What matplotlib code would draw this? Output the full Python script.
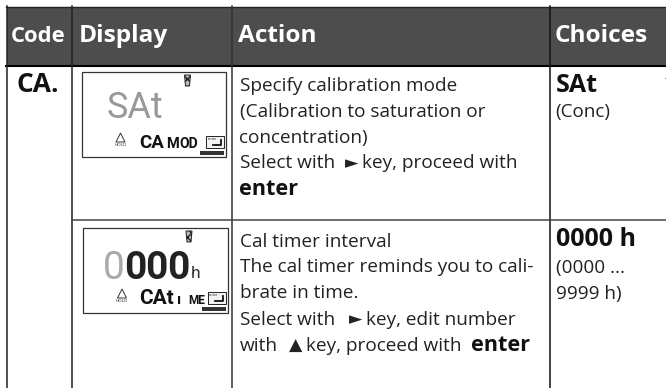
#!/usr/bin/env python3
import matplotlib
matplotlib.use("Agg")
import matplotlib.pyplot as plt
from matplotlib.patches import Rectangle, Polygon

# Contenido de la tabla
headers = ["Code", "Display", "Action", "Choices"]
code_label = "CA."
action_row1 = [
    [("Specify calibration mode", False)],
    [("(Calibration to saturation or", False)],
    [("concentration)", False)],
    [("Select with", False), ("►", False), ("key, proceed with", False)],
    [("enter", True)],
]
action_row2 = [
    [("Cal timer interval", False)],
    [("The cal timer reminds you to cali-", False)],
    [("brate in time.", False)],
    [("Select with", False), ("►", False), ("key, edit number", False)],
    [("with", False), ("▲", False), ("key, proceed with", False), ("enter", True)],
]
choices_row1 = [("SAt", True), ("(Conc)", False)]
choices_row2 = [("0000 h", True), ("(0000 ...", False), ("9999 h)", False)]

FONT = "Open Sans"
DARK = "#4d4d4d"
TEXT = "#222222"

fig = plt.figure(figsize=(6.66, 3.88), dpi=100)
ax = fig.add_axes([0, 0, 1, 1])
ax.set_xlim(0, 666)
ax.set_ylim(388, 0)
ax.axis("off")

# Cabecera oscura y lineas de la tabla
ax.add_patch(Rectangle((7, 7), 659, 58, fc=DARK, ec="none"))
ax.plot([6, 666], [6.5, 6.5], color="#222222", lw=1.0)
ax.plot([6, 666], [65.8, 65.8], color="black", lw=1.5)
ax.plot([7, 7], [6, 388], color="#222222", lw=1.1)
ax.plot([72, 72], [6, 388], color="#222222", lw=1.1)
ax.plot([231.7, 231.7], [6, 388], color="#333333", lw=1.1)
ax.plot([549.7, 549.7], [6, 388], color="#111111", lw=1.1)
ax.plot([72, 666], [220, 220], color="#444444", lw=1.1)

header_x = [10.5, 78.5, 237.5, 555]
header_size = [15.8, 17.6, 17.6, 17.6]
for name, x, size in zip(headers, header_x, header_size):
    ax.text(x, 42.5, name, color="white", fontsize=size, fontweight="bold",
            family=FONT, va="baseline", ha="left")

ax.text(16, 92, code_label, color="#111111", fontsize=19, fontweight="bold",
        family=FONT, va="baseline")


# Escribe una linea con tramos normales, simbolos y negrita en sus x
def draw_runs(xs, y, runs, size=13.7):
    for x, (txt, bold) in zip(xs, runs):
        if txt in ("►", "▲"):
            ax.text(x, y - 0.5, txt, fontsize=12.5, family="DejaVu Sans",
                    color=TEXT, va="baseline")
        else:
            ax.text(x, y, txt, fontsize=15.6 if bold else size,
                    family=FONT, fontweight="bold" if bold else "normal",
                    color="#111111" if bold else TEXT, va="baseline")


row1_xs = [[239.5], [239.5], [239.5], [239.5, 345, 362.5], [239.5]]
row2_xs = [[239.5], [239.5], [239.5], [239.5, 348.5, 366], [239.5, 288.5, 306, 471]]
for xs, runs, y in zip(row1_xs, action_row1, [91, 117, 143, 168.5, 195]):
    draw_runs(xs, y, runs)
for xs, runs, y in zip(row2_xs, action_row2, [247, 272.5, 298.5, 325, 351]):
    draw_runs(xs, y, runs)


def draw_choices(rows, ys):
    for (txt, bold), y in zip(rows, ys):
        ax.text(555.5, y, txt, family=FONT, va="baseline",
                fontsize=18 if bold else 13.6,
                fontweight="bold" if bold else "normal",
                color="#111111" if bold else TEXT)


draw_choices(choices_row1, [91.5, 117.5])
draw_choices(choices_row2, [245.5, 272.5, 298.5])
ax.plot([664.5, 666], [78, 78], color="#999999", lw=0.8)


# Pantalla LCD: marco, icono del vaso, aviso, tecla enter y barra
def draw_lcd(x0, y0, w, h):
    ax.add_patch(Rectangle((x0, y0), w, h, fc="white", ec="#333333", lw=0.9))
    bx = x0 + w - 41.5
    by = y0 + 3
    ax.add_patch(Polygon([(bx, by), (bx + 1, by + 11), (bx + 5, by + 11), (bx + 6, by)],
                         closed=True, fc="#bbbbbb", ec="#222222", lw=0.7, hatch="xxxx"))
    tx = x0 + w - 110
    ax.add_patch(Polygon([(tx, y0 + 70), (tx + 4.5, y0 + 61), (tx + 9, y0 + 70)],
                         closed=True, fc="white", ec="#333333", lw=0.7))
    ax.text(tx + 4.5, y0 + 74.5, "HOLD", fontsize=3.2, ha="center", va="baseline",
            family="Liberation Sans", color="#333333")
    ax.add_patch(Rectangle((x0 + w - 20, y0 + 63.5), 18, 12, fc="#f2f2f2", ec="#222222", lw=0.7))
    ax.text(x0 + w - 18.5, y0 + 68.5, "enter", fontsize=3, ha="left", va="baseline",
            family="Liberation Sans", color="#333333")
    ax.plot([x0 + w - 5, x0 + w - 5, x0 + w - 13], [y0 + 68, y0 + 73, y0 + 73], color="#111111", lw=1.3)
    ax.add_patch(Rectangle((x0 + w - 26, y0 + 79), 24, 3.5, fc="#333333", ec="none"))


draw_lcd(82, 72, 144, 85)
draw_lcd(82.5, 228, 145, 85)

LCD_FONT = "Roboto"


def lcd_text(x, y, txt, size, color="#111111", weight="bold", ha="left"):
    ax.text(x, y, txt, color=color, fontsize=size, fontweight=weight,
            family=LCD_FONT, va="baseline", ha=ha)


lcd_text(107, 118.5, "SAt", 26, color="#999999", weight="normal")
lcd_text(139, 148, "CA", 13.5)
lcd_text(166, 148, "M", 10.5)
lcd_text(179, 148, "OD", 10)

# Digitos grandes: uno a uno porque van mas separados que la fuente
big_digits = ["0", "0", "0", "0"]
digit_colors = ["#aaaaaa", "#222222", "#222222", "#222222"]
digit_x = [113.5, 135, 156.5, 178.5]
for d, c, x in zip(big_digits, digit_colors, digit_x):
    lcd_text(x, 279, d, 28, color=c, weight="normal" if c == "#aaaaaa" else "bold", ha="center")
lcd_text(190.5, 278.5, "h", 12.5, color="#333333", weight="normal")
lcd_text(139, 304, "CAt", 15)
lcd_text(177.5, 304, "ı", 11)
lcd_text(188, 304, "ME", 8.5)

fig.savefig("out.png", dpi=100, facecolor="white")
